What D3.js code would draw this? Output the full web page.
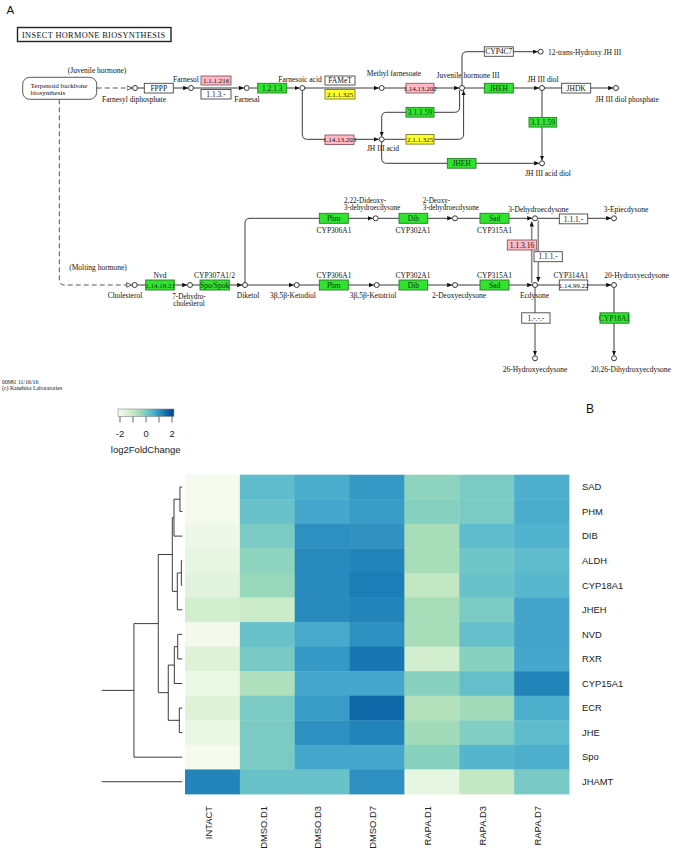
<!DOCTYPE html>
<html>
<head>
<meta charset="utf-8">
<script src="https://cdn.jsdelivr.net/npm/d3@7"></script>
<style>
  html, body { margin: 0; padding: 0; background: #fff; }
  svg { display: block; }
  .kt { font-family: "Liberation Serif", "DejaVu Serif", serif; font-size: 7.5px; fill: #111; }
  .hs { font-family: "Liberation Sans", Arial, sans-serif; fill: #222; }
</style>
</head>
<body>
<svg id="fig" width="675" height="853"></svg>
<script>
// ---------------- DATA (panel B heatmap) ----------------
const conditions = ["INTACT", "DMSO.D1", "DMSO.D3", "DMSO.D7", "RAPA.D1", "RAPA.D3", "RAPA.D7"];
const genes = ["SAD", "PHM", "DIB", "ALDH", "CYP18A1", "JHEH", "NVD", "RXR", "CYP15A1", "ECR", "JHE", "Spo", "JHAMT"];
// log2FoldChange, one row per gene, columns follow `conditions`
const SAD     = [-2.11, 0.34, 0.60, 0.90, -0.22,  0.00, 0.56];
const PHM     = [-2.11, 0.22, 0.69, 0.86, -0.13,  0.00, 0.60];
const DIB     = [-1.94, 0.00, 1.03, 0.99, -0.56,  0.34, 0.52];
const ALDH    = [-1.76,-0.22, 1.12, 1.20, -0.56,  0.13, 0.34];
const CYP18A1 = [-1.63,-0.34, 1.12, 1.29, -0.95,  0.22, 0.43];
const JHEH    = [-1.29,-1.12, 1.12, 1.20, -0.56,  0.00, 0.73];
const NVD     = [-2.06, 0.22, 0.65, 1.03, -0.56,  0.26, 0.73];
const RXR     = [-1.55, 0.04, 0.90, 1.38, -1.29, -0.17, 0.69];
const CYP15A1 = [-1.89,-0.65, 0.69, 0.69, -0.17,  0.26, 1.20];
const ECR     = [-1.55, 0.00, 0.86, 1.59, -0.69, -0.47, 0.56];
const JHE     = [-1.85, 0.00, 1.03, 1.20, -0.47, -0.09, 0.34];
const Spo     = [-2.11, 0.00, 0.69, 0.69, -0.17,  0.47, 0.56];
const JHAMT   = [ 1.20, 0.22, 0.22, 1.03, -1.76, -0.95, 0.04];
const geneValues = [SAD, PHM, DIB, ALDH, CYP18A1, JHEH, NVD, RXR, CYP15A1, ECR, JHE, Spo, JHAMT];
const colorTicks = [-2, -1, 0, 1, 2];
const colorTickLabels = [-2, 0, 2];
// row dendrogram: [height, left, right]; leaves are gene names
const dendroTree = [0.60,
  [0.298,
    [0.124, [0.103, [0.029, "SAD", "PHM"], "DIB"], [0.062, [0.012, "ALDH", "CYP18A1"], "JHEH"]],
    [0.174, [0.099, [0.057, "NVD", "RXR"], "CYP15A1"], [0.037, "ECR", "JHE"]]],
  "Spo"];
const dendroSingleton = "JHAMT";
const dendroCut = 1.0;

// ---------------- SVG ----------------
const svg = d3.select("#fig");
svg.append("rect").attr("width", 675).attr("height", 853).attr("fill", "#fff");

const defs = svg.append("defs");
defs.append("marker").attr("id", "arr").attr("markerUnits", "userSpaceOnUse")
  .attr("markerWidth", 6).attr("markerHeight", 5).attr("refX", 5).attr("refY", 2.2)
  .attr("orient", "auto")
  .append("path").attr("d", "M0,0 L5,2.2 L0,4.4 Z").attr("fill", "#111");
defs.append("marker").attr("id", "oarr").attr("markerUnits", "userSpaceOnUse")
  .attr("markerWidth", 7).attr("markerHeight", 6).attr("refX", 5.5).attr("refY", 2.7)
  .attr("orient", "auto")
  .append("path").attr("d", "M0.5,0.5 L5.5,2.7 L0.5,4.9 Z").attr("fill", "#fff").attr("stroke", "#333").attr("stroke-width", 0.8);

// ---------------- PANEL A : KEGG map ----------------
const A = svg.append("g");
A.append("text").attr("x", 6.5).attr("y", 13.5).attr("class", "hs")
  .style("font-size", "11.5px").style("fill", "#111").text("A");

// title box
A.append("rect").attr("x", 17.5).attr("y", 27.5).attr("width", 153.5).attr("height", 14)
  .attr("fill", "#fff").attr("stroke", "#222").attr("stroke-width", 1.4);
A.append("text").attr("class", "kt").attr("x", 22).attr("y", 38).style("font-size", "8.3px")
  .attr("textLength", 143).attr("lengthAdjust", "spacing").text("INSECT  HORMONE  BIOSYNTHESIS");

// terpenoid map box
A.append("rect").attr("x", 22.7).attr("y", 77.3).attr("width", 74).attr("height", 22).attr("rx", 7)
  .attr("fill", "#fff").attr("stroke", "#444").attr("stroke-width", 0.9);
A.append("text").attr("class", "kt").attr("x", 30.5).attr("y", 87.8).style("font-size", "7px").text("Terpenoid backbone");
A.append("text").attr("class", "kt").attr("x", 30.5).attr("y", 94.6).style("font-size", "7px").text("biosynthesis");

const cpd = {
  fpp: [135, 88], farnesol: [191, 88], farnesal: [246.7, 88], fa: [302.3, 88], mf: [381.7, 88],
  jh3: [462, 88], jhdiol: [542, 88], jhdp: [616, 88], hjh: [540.7, 51.7], jhacid: [381.7, 139.3],
  jhaciddiol: [542, 163.3],
  chol: [134.7, 285], dhc: [190, 285], diketol: [245, 285], ketodiol: [296.7, 285],
  ketotriol: [376.7, 285], deoxyE: [455, 285], ecd: [535, 285], he20: [614, 285],
  dd: [375.7, 218.3], d3de: [455, 218.3], de3: [535, 218.3], epi: [614, 218.3],
  h26: [535, 358.3], dh2026: [614, 358.3]
};
const R = 2.5;

function roundedPath(pts, r, t0, t1) {
  pts = pts.map(p => p.slice());
  const trim = (a, b, d) => { // move a toward b by d
    const dx = b[0] - a[0], dy = b[1] - a[1], L = Math.hypot(dx, dy);
    return [a[0] + dx / L * d, a[1] + dy / L * d];
  };
  if (t0) pts[0] = trim(pts[0], pts[1], t0);
  if (t1) pts[pts.length - 1] = trim(pts[pts.length - 1], pts[pts.length - 2], t1);
  const p = d3.path();
  p.moveTo(pts[0][0], pts[0][1]);
  for (let i = 1; i < pts.length - 1; i++) {
    const a = trim(pts[i], pts[i - 1], r), b = trim(pts[i], pts[i + 1], r);
    p.lineTo(a[0], a[1]);
    p.quadraticCurveTo(pts[i][0], pts[i][1], b[0], b[1]);
  }
  p.lineTo(pts[pts.length - 1][0], pts[pts.length - 1][1]);
  return p.toString();
}
const c = k => cpd[k];
const edges = [
  {p: [c("fpp"), c("farnesol")]}, {p: [c("farnesol"), c("farnesal")]}, {p: [c("farnesal"), c("fa")]},
  {p: [c("fa"), c("mf")]}, {p: [c("mf"), c("jh3")]}, {p: [c("jh3"), c("jhdiol")]}, {p: [c("jhdiol"), c("jhdp")]},
  {p: [c("jh3"), [462, 51.7], c("hjh")]},
  {p: [c("fa"), [302.3, 139.3], c("jhacid")]},
  {p: [[381.7 + R, 139.3], [463.6, 139.3], [463.6, 88]], t0: 0.01, t1: 2.4},
  {p: [[459.6, 88], [459.6, 112.3], [381.7, 112.3], c("jhacid")], t0: 2.2},
  {p: [c("jhacid"), [381.7, 163.3], c("jhaciddiol")]},
  {p: [c("jhdiol"), c("jhaciddiol")]},
  {p: [c("chol"), c("dhc")]}, {p: [c("dhc"), c("diketol")]}, {p: [c("diketol"), c("ketodiol")]},
  {p: [c("diketol"), [245, 218.3], c("dd")]}, {p: [c("ketodiol"), c("ketotriol")]},
  {p: [c("dd"), c("d3de")]}, {p: [c("d3de"), c("de3")]}, {p: [c("de3"), c("epi")]},
  {p: [c("ketotriol"), c("deoxyE")]}, {p: [c("deoxyE"), c("ecd")]}, {p: [c("ecd"), c("he20")]},
  {p: [c("he20"), c("dh2026")]},
  {p: [c("ecd"), c("h26")], gray: true},
  {p: [[531.7, 285], [531.7, 218.3]], t0: 2, t1: 3.2, gray: true},
  {p: [[538.3, 218.3], [538.3, 285]], t0: 2, t1: 3.2, gray: true}
];
edges.forEach(e => {
  A.append("path").attr("d", roundedPath(e.p, 5, e.t0 === undefined ? R : e.t0, e.t1 === undefined ? R + 0.3 : e.t1))
    .attr("fill", "none").attr("stroke", e.gray ? "#8a8a8a" : "#3a3a3a").attr("stroke-width", e.gray ? 1.6 : 1)
    .attr("marker-end", "url(#arr)");
});
// dashed links from the map box
[[[96.7, 88], c("fpp")], [[59.3, 99.3], [59.3, 285], c("chol")]].forEach(pts => {
  A.append("path").attr("d", roundedPath(pts, 5, 0.01, R + 0.5))
    .attr("fill", "none").attr("stroke", "#444").attr("stroke-width", 0.9)
    .attr("stroke-dasharray", "5,3").attr("marker-end", "url(#oarr)");
});

const FILL = {g: "#2fe32f", p: "#ffb8c4", y: "#ffff2a", w: "#ffffff"};
const STROKE = {g: "#2a7a2a", p: "#8a5a62", y: "#7a7a22", w: "#444"};
const boxes = [
  ["FPPP", 144.3, 83.3, 29, 9.7, "w"], ["1.1.1.216", 201, 76, 30, 9, "p"], ["1.1.3.-", 201, 89.5, 30, 9.5, "w"],
  ["1.2.1.3", 257.7, 83.3, 29, 9.7, "g"], ["FAMeT", 325, 76, 30, 9, "w"], ["2.1.1.325", 325, 89.5, 30, 9.5, "y"],
  ["1.14.13.202", 406, 83.3, 28, 9.7, "p"], ["JHEH", 484.3, 83.3, 29, 9.7, "g"], ["JHDK", 561.7, 83.3, 29, 9.7, "w"],
  ["CYP4C7", 484.3, 46.8, 29, 9.5, "w"], ["1.14.13.203", 325, 135, 29, 9.5, "p"], ["3.1.1.59", 406, 107.4, 28, 9.7, "g"],
  ["2.1.1.325", 406, 134.5, 28, 9.6, "y"], ["JHEH", 447.3, 158.4, 28.7, 9.8, "g"], ["3.1.1.59", 529, 117.4, 27.7, 9.7, "g"],
  ["1.14.19.21", 145.7, 280, 28.6, 10, "g"], ["Spo/Spok", 200, 280, 29.3, 10, "g"],
  ["Phm", 319.3, 213.3, 29, 10, "g"], ["Phm", 319.3, 280, 29, 10, "g"],
  ["Dib", 399, 213.3, 28.7, 10, "g"], ["Dib", 399, 280, 28.7, 10, "g"],
  ["Sad", 480, 213.3, 29, 10, "g"], ["Sad", 480, 280, 29, 10, "g"],
  ["1.1.1.-", 559.3, 214, 28.4, 9.8, "w"], ["1.14.99.22", 559.3, 280, 28.4, 10, "w"],
  ["1.1.3.16", 507.3, 240, 29.4, 10, "p"], ["1.1.1.-", 534, 251.7, 28.3, 10, "w"],
  ["1.-.-.-", 521.7, 312.8, 28.3, 10.4, "w"], ["CYP18A1", 600, 312.8, 29, 10.4, "g"]
];
boxes.forEach(([t, x, y, w, h, k]) => {
  A.append("rect").attr("x", x).attr("y", y).attr("width", w).attr("height", h)
    .attr("fill", FILL[k]).attr("stroke", STROKE[k]).attr("stroke-width", 0.9);
  A.append("text").attr("class", "kt").attr("x", x + w / 2).attr("y", y + h / 2 + 2.6)
    .attr("text-anchor", "middle").style("font-size", t.length > 8 ? "7px" : "7.5px")
    .style("fill", k === "g" ? "#0a3a0a" : "#111").text(t);
});
Object.values(cpd).forEach(([x, y]) => {
  A.append("circle").attr("cx", x).attr("cy", y).attr("r", R)
    .attr("fill", "#fff").attr("stroke", "#222").attr("stroke-width", 0.9);
});

const labels = [
  ["(Juvenile hormone)", 97, 73, "middle"], ["Farnesyl diphosphate", 134, 102, "middle"],
  ["Farnesol", 186, 82, "middle"], ["Farnesal", 247, 102, "middle"], ["Farnesoic acid", 300, 82, "middle"],
  ["Methyl farnesoate", 394, 76, "middle"], ["Juvenile hormone III", 468, 78, "middle"],
  ["12-trans-Hydroxy JH III", 548, 54.5, "start"], ["JH III diol", 543, 82, "middle"],
  ["JH III diol phosphate", 627, 102, "middle"], ["JH III acid", 383, 151, "middle"],
  ["JH III acid diol", 548, 176, "middle"],
  ["(Molting hormone)", 98, 270, "middle"], ["Nvd", 160, 278, "middle"], ["Cholesterol", 125, 298, "middle"],
  ["CYP307A1/2", 214.5, 278, "middle"],
  ["Diketol", 248, 298, "middle"], ["3β,5β-Ketodiol", 293, 298, "middle"],
  ["CYP306A1", 334, 232.5, "middle"], ["CYP306A1", 334, 278, "middle"],
  ["CYP302A1", 413, 232.5, "middle"], ["CYP315A1", 494.5, 232.5, "middle"],
  ["3-Dehydroecdysone", 538.5, 211.8, "middle"], ["3-Epiecdysone", 626, 212, "middle"],
  ["3β,5β-Ketotriol", 373, 298, "middle"], ["CYP302A1", 413, 278, "middle"],
  ["2-Deoxyecdysone", 459, 298, "middle"], ["CYP315A1", 494.5, 278, "middle"],
  ["Ecdysone", 534.5, 298, "middle"], ["CYP314A1", 571, 278, "middle"],
  ["20-Hydroxyecdysone", 636.5, 278, "middle"], ["26-Hydroxyecdysone", 535, 372, "middle"],
  ["20,26-Dihydroxyecdysone", 631, 372, "middle"]
];
labels.forEach(([t, x, y, a]) => {
  A.append("text").attr("class", "kt").attr("x", x).attr("y", y).attr("text-anchor", a).text(t);
});
// two-line compound names (tight line spacing)
const twoLine = [
  ["7-Dehydro-", 189, 298.6, "middle"], ["cholesterol", 189, 305.6, "middle"],
  ["2,22-Dideoxy-", 344, 203.3, "start"], ["3-dehydroecdysone", 344, 210.3, "start"],
  ["2-Deoxy-", 422.7, 203.3, "start"], ["3-dehydroecdysone", 422.7, 210.3, "start"]
];
twoLine.forEach(([t, x, y, a]) => {
  A.append("text").attr("class", "kt").attr("x", x).attr("y", y).attr("text-anchor", a)
    .style("font-size", "7.2px").text(t);
});
A.append("text").attr("class", "kt").attr("x", 2).attr("y", 383.5).style("font-size", "5.8px").text("00981 11/16/16");
A.append("text").attr("class", "kt").attr("x", 2).attr("y", 390).style("font-size", "5.8px").text("(c) Kanehisa Laboratories");

// ---------------- PANEL B : heatmap ----------------
const B = svg.append("g");
B.append("text").attr("x", 586).attr("y", 413).attr("class", "hs")
  .style("font-size", "12px").style("fill", "#111").text("B");

const vmin = -2.15, vmax = 2.15;
const color = d3.scaleSequential(d3.interpolateGnBu).domain([vmin, vmax]);
const xb = d3.scaleBand().domain(conditions).range([185, 569]);
const yb = d3.scaleBand().domain(genes).range([474.7, 794]);

const cells = [];
genes.forEach((g, i) => conditions.forEach((cnd, j) => cells.push({g, cnd, v: geneValues[i][j]})));
B.append("g").selectAll("rect").data(cells).join("rect")
  .attr("x", d => xb(d.cnd)).attr("y", d => yb(d.g))
  .attr("width", xb.bandwidth() + 0.4).attr("height", yb.bandwidth() + 0.4)
  .attr("fill", d => color(d.v));

// row labels
B.append("g").selectAll("text").data(genes).join("text").attr("class", "hs")
  .attr("x", 582).attr("y", d => yb(d) + yb.bandwidth() / 2).attr("dy", "0.35em")
  .style("font-size", "9.4px").text(d => d);
// column labels
B.append("g").selectAll("text").data(conditions).join("text").attr("class", "hs")
  .attr("transform", d => `translate(${xb(d) + xb.bandwidth() / 2 - 4},806) rotate(-90)`)
  .attr("text-anchor", "end").attr("dy", "0.35em")
  .style("font-size", "9.4px").text(d => d);

// dendrogram
const xd = d3.scaleLinear().domain([0, dendroCut]).range([182.3, 101.7]);
const dg = B.append("g").attr("fill", "none").attr("stroke", "#3c3c3c").attr("stroke-width", 1);
function drawNode(n) {
  if (typeof n === "string") return {x: xd(0), y: yb(n) + yb.bandwidth() / 2};
  const [h, l, r] = n;
  const a = drawNode(l), b = drawNode(r), x = xd(h);
  dg.append("path").attr("d", `M${a.x},${a.y}H${x}V${b.y}H${b.x}`);
  return {x, y: (a.y + b.y) / 2};
}
const root = drawNode(dendroTree);
dg.append("path").attr("d", `M${root.x},${root.y}H${xd(dendroCut)}`);
const sy = yb(dendroSingleton) + yb.bandwidth() / 2;
dg.append("path").attr("d", `M${xd(0)},${sy}H${xd(dendroCut)}`);

// color legend
const xl = d3.scaleLinear().domain([-2, 2]).range([120, 172]);
const grad = defs.append("linearGradient").attr("id", "cbar");
d3.range(0, 1.0001, 0.05).forEach(t => grad.append("stop").attr("offset", t).attr("stop-color", color(vmin + t * (vmax - vmin))));
B.append("rect").attr("x", xl(vmin)).attr("y", 409).attr("width", xl(vmax) - xl(vmin)).attr("height", 7.5)
  .attr("fill", "url(#cbar)").attr("stroke", "#888").attr("stroke-width", 0.6);
B.append("g").selectAll("line").data(colorTicks).join("line")
  .attr("x1", d => xl(d)).attr("x2", d => xl(d)).attr("y1", 416.5).attr("y2", 422.5)
  .attr("stroke", "#555").attr("stroke-width", 0.9);
B.append("g").selectAll("text").data(colorTickLabels).join("text").attr("class", "hs")
  .attr("x", d => xl(d)).attr("y", 437).attr("text-anchor", "middle")
  .style("font-size", "9.4px").text(d => d);
B.append("text").attr("class", "hs").attr("x", 145.7).attr("y", 453).attr("text-anchor", "middle")
  .style("font-size", "9.5px").text("log2FoldChange");
</script>
</body>
</html>
